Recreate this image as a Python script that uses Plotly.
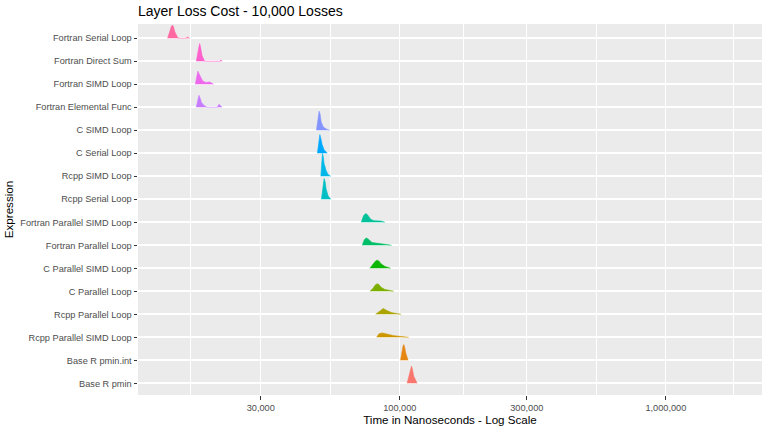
import math

import plotly.graph_objects as go

# Expressions, bottom row first (factor level order)
EXPRESSIONS = [
    "Base R pmin",
    "Base R pmin.int",
    "Rcpp Parallel SIMD Loop",
    "Rcpp Parallel Loop",
    "C Parallel Loop",
    "C Parallel SIMD Loop",
    "Fortran Parallel Loop",
    "Fortran Parallel SIMD Loop",
    "Rcpp Serial Loop",
    "Rcpp SIMD Loop",
    "C Serial Loop",
    "C SIMD Loop",
    "Fortran Elemental Func",
    "Fortran SIMD Loop",
    "Fortran Direct Sum",
    "Fortran Serial Loop",
]

# Ridge outlines: time (ns) and scaled density height
RIDGE_NS = [
    [106490, 108550, 110000, 110620, 111300, 112840, 116100],
    [100610, 101730, 102900, 103510, 104200, 105310, 107370],
    [81780, 83500, 85840, 89390, 94960, 101730, 108080],
    [81090, 83420, 85300, 86580, 88000, 89390, 93330, 101130],
    [77210, 79220, 80810, 82220, 83650, 84870, 87860, 90950, 94960],
    [77210, 79220, 80810, 82220, 83650, 84870, 87860, 92300],
    [72250, 73500, 74790, 76210, 78540, 83420, 89390, 93100],
    [71640, 72990, 74400, 75560, 77670, 79910, 84870, 87860],
    [50730, 51500, 51920, 52400, 52820, 53740, 55000],
    [50470, 50900, 51170, 51550, 51920, 52820, 53740, 55000],
    [49000, 49700, 50040, 50450, 51030, 51920, 53420],
    [48590, 49350, 49730, 50150, 50590, 51470, 52820, 54530],
    [17170, 17400, 17570, 17750, 17980, 18450, 18770, 18930, 20580, 20900, 21480],
    [17030, 17250, 17410, 17600, 17820, 18130, 18610, 19260, 19600, 19940],
    [17170, 17370, 17550, 17670, 17800, 18050, 18450, 20990, 21260, 21480],
    [13400, 13640, 13850, 13960, 14080, 14240, 14610, 14870, 15660, 15930, 16210],
]
RIDGE_HEIGHT = [
    [0, 0.40, 0.70, 0.75, 0.65, 0.30, 0],
    [0, 0.40, 0.64, 0.68, 0.58, 0.30, 0],
    [0, 0.15, 0.19, 0.14, 0.07, 0.03, 0],
    [0, 0.12, 0.22, 0.25, 0.21, 0.16, 0.07, 0],
    [0, 0.12, 0.27, 0.33, 0.28, 0.18, 0.08, 0.04, 0],
    [0, 0.15, 0.30, 0.35, 0.30, 0.20, 0.08, 0],
    [0, 0.24, 0.32, 0.26, 0.12, 0.07, 0.04, 0],
    [0, 0.28, 0.38, 0.33, 0.13, 0.07, 0.05, 0],
    [0, 0.70, 0.90, 0.75, 0.45, 0.15, 0],
    [0, 0.75, 0.99, 0.85, 0.55, 0.25, 0.08, 0],
    [0, 0.65, 0.81, 0.65, 0.38, 0.15, 0],
    [0, 0.65, 0.83, 0.70, 0.38, 0.15, 0.06, 0],
    [0, 0.40, 0.52, 0.40, 0.20, 0.06, 0.02, 0, 0, 0.13, 0],
    [0, 0.45, 0.57, 0.45, 0.30, 0.15, 0.08, 0.10, 0.05, 0],
    [0, 0.40, 0.70, 0.77, 0.65, 0.25, 0, 0, 0.06, 0],
    [0, 0.30, 0.52, 0.57, 0.52, 0.30, 0.03, 0, 0, 0.05, 0],
]

X_TICKS = [30000, 100000, 300000, 1000000]
X_TICK_LABELS = ["30,000", "100,000", "300,000", "1,000,000"]
X_MINOR = [16300, 54772, 173205, 547723, 1800000]


def hcl_hex(h, c=100, l=65):
    # polar Luv -> sRGB, same as R's hcl()
    xn, yn, zn = 95.047, 100.0, 108.883
    un = 4 * xn / (xn + 15 * yn + 3 * zn)
    vn = 9 * yn / (xn + 15 * yn + 3 * zn)
    u = c * math.cos(math.radians(h))
    v = c * math.sin(math.radians(h))
    y = yn * ((l + 16) / 116) ** 3
    up = u / (13 * l) + un
    vp = v / (13 * l) + vn
    x = y * 9 * up / (4 * vp)
    z = y * (12 - 3 * up - 20 * vp) / (4 * vp)
    x, y, z = x / 100, y / 100, z / 100
    rgb = [
        3.240479 * x - 1.537150 * y - 0.498535 * z,
        -0.969256 * x + 1.875992 * y + 0.041556 * z,
        0.055648 * x - 0.204043 * y + 1.057311 * z,
    ]
    out = []
    for ch in rgb:
        ch = 12.92 * ch if ch <= 0.0031308 else 1.055 * ch ** (1 / 2.4) - 0.055
        out.append(int(round(min(max(ch, 0), 1) * 255)))
    return "#%02X%02X%02X" % tuple(out)


n = len(EXPRESSIONS)
COLORS = [hcl_hex(15 + 360 * i / n) for i in range(n)]

fig = go.Figure()

# upper ridges first so the lower ones sit in front
for i in reversed(range(n)):
    fig.add_trace(
        go.Scatter(
            x=RIDGE_NS[i],
            y=[i + h for h in RIDGE_HEIGHT[i]],
            mode="lines",
            fill="toself",
            fillcolor=COLORS[i],
            line=dict(color=COLORS[i], width=0.6),
            hoverinfo="skip",
            showlegend=False,
        )
    )

fig.update_layout(
    width=768,
    height=432,
    paper_bgcolor="white",
    plot_bgcolor="#EBEBEB",
    margin=dict(l=138, r=6, t=24, b=37),
    font=dict(family="Liberation Sans, Arial, sans-serif", color="#4D4D4D", size=9.2),
    title=dict(
        text="Layer Loss Cost - 10,000 Losses",
        font=dict(size=14, color="black"),
        x=0,
        xref="paper",
        xanchor="left",
        y=1 - 11.5 / 432,
        yref="container",
        yanchor="middle",
    ),
    xaxis=dict(
        type="log",
        range=[4.0158, 6.3612],
        tickvals=X_TICKS,
        ticktext=X_TICK_LABELS,
        ticks="outside",
        ticklen=3.5,
        tickcolor="#333333",
        showgrid=True,
        gridcolor="white",
        gridwidth=1.2,
        minor=dict(tickvals=X_MINOR, showgrid=True, gridcolor="white", gridwidth=0.6),
        zeroline=False,
        showline=False,
        automargin=False,
        title=dict(
            text="Time in Nanoseconds - Log Scale",
            font=dict(size=11.6, color="black"),
            standoff=3,
        ),
    ),
    yaxis=dict(
        range=[-0.51, 15.62],
        tickvals=list(range(n)),
        ticktext=EXPRESSIONS,
        ticks="outside",
        ticklen=3.5,
        tickcolor="#333333",
        showgrid=True,
        gridcolor="white",
        gridwidth=1.5,
        zeroline=False,
        showline=False,
        automargin=False,
        title=dict(text="Expression", font=dict(size=11.6, color="black"), standoff=4),
    ),
)

# the page body has a default 8px margin; drop it so the figure fills the window
fig.write_html(
    "out.html",
    config={"displayModeBar": False},
    post_script="document.body.style.margin = '0px';",
)
